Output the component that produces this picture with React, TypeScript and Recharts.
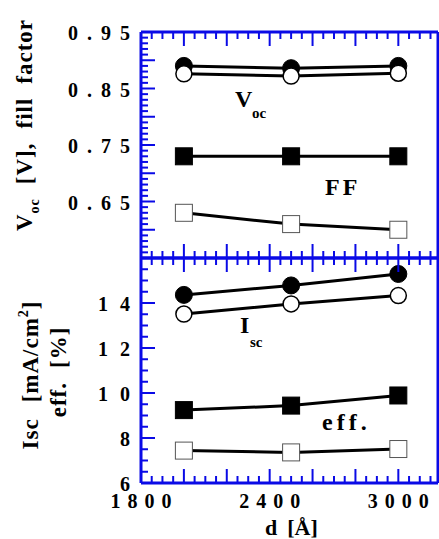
import React from "react";
import { Line, LineChart, XAxis, YAxis } from "recharts";

const BLUE = "#0a0ae6";
const FONT = '"Liberation Serif", "Times New Roman", serif';

// layer thickness d [Å]
const thickness = [2000, 2500, 3000];

// upper panel
const vocClosed = [0.89, 0.886, 0.89];
const vocOpen = [0.876, 0.872, 0.877];
const ffClosed = [0.73, 0.73, 0.73];
const ffOpen = [0.63, 0.61, 0.6];

// lower panel
const iscClosed = [14.36, 14.78, 15.29];
const iscOpen = [13.51, 13.96, 14.33];
const effClosed = [9.24, 9.44, 9.89];
const effOpen = [7.44, 7.36, 7.51];

// labelled ticks
const xTickLabels = [1800, 2400, 3000];
const topTickLabels = [0.65, 0.75, 0.85, 0.95];
const bottomTickLabels = [6, 8, 10, 12, 14];

function steps(from: number, to: number, div = 1) {
  const out: number[] = [];
  for (let i = from; i <= to; i++) out.push(i / div);
  return out;
}

const xTicks = steps(36, 63).map((v) => v * 50); // 1800..3150 every 50
const topTicks = steps(55, 95, 100); // every 0.01
const bottomTicks = steps(12, 32, 2); // every 0.5

const topData = thickness.map((d, i) => ({
  d,
  vocClosed: vocClosed[i],
  vocOpen: vocOpen[i],
  ffClosed: ffClosed[i],
  ffOpen: ffOpen[i],
}));

const bottomData = thickness.map((d, i) => ({
  d,
  iscClosed: iscClosed[i],
  iscOpen: iscOpen[i],
  effClosed: effClosed[i],
  effOpen: effOpen[i],
}));

type Side = "top" | "bottom" | "left" | "right";

function makeTick(
  side: Side,
  isMajor: (v: number) => boolean,
  labels: number[] | null,
  format: (v: number) => string,
  ls: number
) {
  return (props: any) => {
    const { x, y, payload } = props;
    const v = payload.value;
    const len = isMajor(v) ? 14 : 7;
    let x2 = x;
    let y2 = y;
    if (side === "bottom") y2 = y - len;
    if (side === "top") y2 = y + len;
    if (side === "left") x2 = x + len;
    if (side === "right") x2 = x - len;
    const show = labels && labels.some((l) => Math.abs(l - v) < 1e-6);
    return (
      <g>
        <line x1={x} y1={y} x2={x2} y2={y2} stroke={BLUE} strokeWidth={2} />
        {show && side === "bottom" && (
          <text
            x={x + ls / 2}
            y={y + 25}
            textAnchor="middle"
            fontFamily={FONT}
            fontWeight="bold"
            fontSize={20}
            letterSpacing={ls}
            fill="#000"
          >
            {format(v)}
          </text>
        )}
        {show && side === "left" && (
          <text
            x={x - 11 + ls}
            y={y + 8}
            textAnchor="end"
            fontFamily={FONT}
            fontWeight="bold"
            fontSize={20}
            letterSpacing={ls}
            fill="#000"
          >
            {format(v)}
          </text>
        )}
      </g>
    );
  };
}

const xMajor = (v: number) => v % 200 === 0;
const topMajor = (v: number) => Math.round(v * 100) % 5 === 0;
const bottomMajor = (v: number) => v % 2 === 0;

function squareDot(filled: boolean) {
  return (props: any) => {
    const { cx, cy, index } = props;
    if (cx == null || cy == null) return <g key={index} />;
    return (
      <rect
        key={index}
        x={cx - 8.5}
        y={cy - 8.5}
        width={17}
        height={17}
        fill={filled ? "#000" : "#fff"}
        stroke={filled ? "#000" : "#555"}
        strokeWidth={1}
      />
    );
  };
}

const closedCircle = { r: 8.5, fill: "#000", stroke: "#000", strokeWidth: 1 };
const openCircle = { r: 8, fill: "#fff", stroke: "#000", strokeWidth: 1.5 };

const axisLine = { stroke: BLUE, strokeWidth: 3 };

function Frame({ yTicks, yDomain, yMajor, yLabels, yFormat, yLs, xLabels }: any) {
  return [
    <XAxis
      key="xb"
      xAxisId="b"
      type="number"
      dataKey="d"
      orientation="bottom"
      domain={[1800, 3185]}
      ticks={xTicks}
      interval={0}
      height={1}
      tickSize={0}
      tickMargin={0}
      axisLine={axisLine}
      tickLine={false}
      tick={makeTick("bottom", xMajor, xLabels, (v) => String(v), 7)}
    />,
    <XAxis
      key="xt"
      xAxisId="t"
      type="number"
      dataKey="d"
      orientation="top"
      domain={[1800, 3185]}
      ticks={xTicks}
      interval={0}
      height={1}
      tickSize={0}
      tickMargin={0}
      axisLine={axisLine}
      tickLine={false}
      tick={makeTick("top", xMajor, null, (v) => String(v), 0)}
    />,
    <YAxis
      key="yl"
      yAxisId="l"
      type="number"
      orientation="left"
      domain={yDomain}
      ticks={yTicks}
      interval={0}
      width={1}
      tickSize={0}
      tickMargin={0}
      axisLine={axisLine}
      tickLine={false}
      tick={makeTick("left", yMajor, yLabels, yFormat, yLs)}
    />,
    <YAxis
      key="yr"
      yAxisId="r"
      type="number"
      orientation="right"
      domain={yDomain}
      ticks={yTicks}
      interval={0}
      width={1}
      tickSize={0}
      tickMargin={0}
      axisLine={axisLine}
      tickLine={false}
      tick={makeTick("right", yMajor, null, yFormat, 0)}
    />,
  ];
}

const lineProps = {
  xAxisId: "b",
  yAxisId: "l",
  type: "linear" as const,
  stroke: "#000",
  strokeWidth: 3,
  isAnimationActive: false,
  activeDot: false,
};

export default function App() {
  return (
    <div style={{ position: "absolute", left: 0, top: 0, width: 439, height: 539, background: "#fff" }}>
      <div style={{ position: "absolute", left: 0, top: 0 }}>
        <LineChart
          width={439}
          height={260}
          data={topData}
          margin={{ top: 31, right: 0, bottom: 1, left: 140 }}
        >
          {Frame({
            yTicks: topTicks,
            yDomain: [0.55, 0.95],
            yMajor: topMajor,
            yLabels: topTickLabels,
            yFormat: (v: number) => v.toFixed(2),
            yLs: 9,
            xLabels: null,
          })}
          <Line {...lineProps} dataKey="vocClosed" dot={closedCircle} />
          <Line {...lineProps} dataKey="vocOpen" dot={openCircle} />
          <Line {...lineProps} dataKey="ffClosed" dot={squareDot(true)} />
          <Line {...lineProps} dataKey="ffOpen" dot={squareDot(false)} />
        </LineChart>
      </div>
      <div style={{ position: "absolute", left: 0, top: 0 }}>
        <LineChart
          width={439}
          height={539}
          data={bottomData}
          margin={{ top: 257, right: 0, bottom: 55, left: 140 }}
        >
          {Frame({
            yTicks: bottomTicks,
            yDomain: [6, 16],
            yMajor: bottomMajor,
            yLabels: bottomTickLabels,
            yFormat: (v: number) => String(v),
            yLs: 12,
            xLabels: xTickLabels,
          })}
          <Line {...lineProps} dataKey="iscClosed" dot={closedCircle} />
          <Line {...lineProps} dataKey="iscOpen" dot={openCircle} />
          <Line {...lineProps} dataKey="effClosed" dot={squareDot(true)} />
          <Line {...lineProps} dataKey="effOpen" dot={squareDot(false)} />
        </LineChart>
      </div>
      <svg
        width={439}
        height={539}
        style={{ position: "absolute", left: 0, top: 0, pointerEvents: "none" }}
        fontFamily={FONT}
        fontWeight="bold"
        fill="#000"
      >
        <text transform="translate(32,125) rotate(-90)" textAnchor="middle" fontSize={23} letterSpacing={1}>
          <tspan>V</tspan>
          <tspan fontSize={14} dy={7}>oc</tspan>
          <tspan dy={-7} dx={14}>[V],</tspan>
          <tspan dx={14}>fill</tspan>
          <tspan dx={14}>factor</tspan>
        </text>
        <text transform="translate(38,375) rotate(-90)" textAnchor="middle" fontSize={23} letterSpacing={1}>
          <tspan>Isc</tspan>
          <tspan dx={16}>[mA/cm</tspan>
          <tspan fontSize={14} dy={-10}>2</tspan>
          <tspan dy={10}>]</tspan>
        </text>
        <text transform="translate(66,372) rotate(-90)" textAnchor="middle" fontSize={23} letterSpacing={1}>
          <tspan>eff.</tspan>
          <tspan dx={14}>[%]</tspan>
        </text>

        <text x={235} y={107} fontSize={24}>V</text>
        <text x={252} y={118} fontSize={15}>oc</text>
        <text x={325} y={195} fontSize={24} letterSpacing={3}>FF</text>
        <text x={240} y={333} fontSize={24}>I</text>
        <text x={250} y={347} fontSize={15}>sc</text>
        <text x={322} y={430} fontSize={24} letterSpacing={4}>eff.</text>
        <text x={265} y={535} fontSize={22}>
          <tspan>d</tspan>
          <tspan dx={10}>[Å]</tspan>
        </text>
      </svg>
    </div>
  );
}
